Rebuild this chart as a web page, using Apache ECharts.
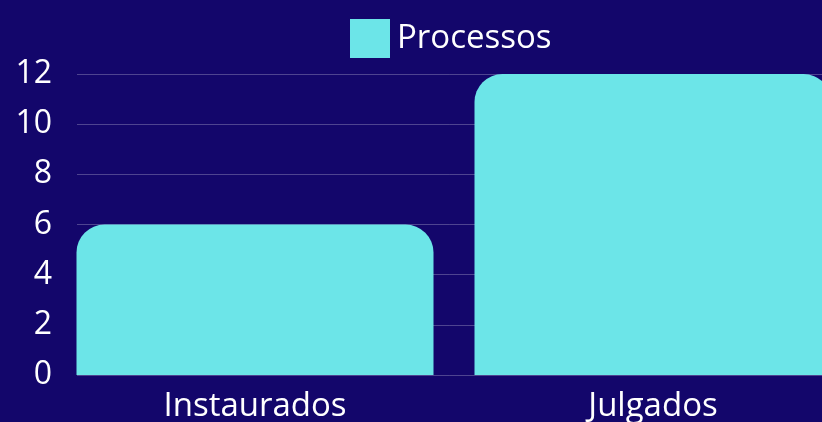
<!DOCTYPE html>
<html><head><meta charset="utf-8">
<script src="https://cdn.jsdelivr.net/npm/echarts@6/dist/echarts.min.js"></script>
<style>html,body{margin:0;padding:0;background:#13066b;}#c{width:822px;height:422px;}</style>
</head><body><div id="c"></div>
<script>
const categories = ["Instaurados", "Julgados"];
const seriesName = "Processos";
const values = [6, 12];
const yMin = 0, yMax = 12, yStep = 2;

const chart = echarts.init(document.getElementById('c'));
const font = '"Open Sans", "Noto Sans", sans-serif';
chart.setOption({
  backgroundColor: '#13066b',
  animation: false,
  textStyle: { fontFamily: font },
  legend: {
    data: [seriesName], left: 345, top: 14, itemWidth: 40, itemHeight: 39, itemGap: 10,
    icon: 'rect',
    textStyle: { color: '#ffffff', fontSize: 33, fontFamily: font, padding: [0,0,0,2] }
  },
  grid: [
    { left: 77, right: 0, top: 74, bottom: 47, containLabel: false, outerBoundsMode: 'none' },
    { left: 56, width: 796, top: 74, bottom: 47, containLabel: false, outerBoundsMode: 'none' }
  ],
  xAxis: [
    { type: 'category', gridIndex: 0, data: categories, show: false },
    { type: 'category', gridIndex: 1, data: categories,
      axisLine: { show: false }, axisTick: { show: false },
      axisLabel: { color: '#ffffff', fontSize: 33, fontFamily: font, margin: 15 } }
  ],
  yAxis: [
    { type: 'value', gridIndex: 0, min: yMin, max: yMax, interval: yStep,
      axisLine: { show: false }, axisTick: { show: false },
      axisLabel: { color: '#ffffff', fontSize: 32, fontFamily: font, margin: 25 },
      splitLine: { lineStyle: { color: 'rgba(255,255,255,0.25)', width: 1 } } },
    { type: 'value', gridIndex: 1, min: yMin, max: yMax, interval: yStep, show: false,
      splitLine: { show: false } }
  ],
  series: [{
    name: seriesName, type: 'bar', xAxisIndex: 1, yAxisIndex: 1,
    data: values, barWidth: 357,
    itemStyle: { color: '#6ce5e8', borderRadius: [28, 28, 0, 0] }
  }]
});
</script></body></html>
